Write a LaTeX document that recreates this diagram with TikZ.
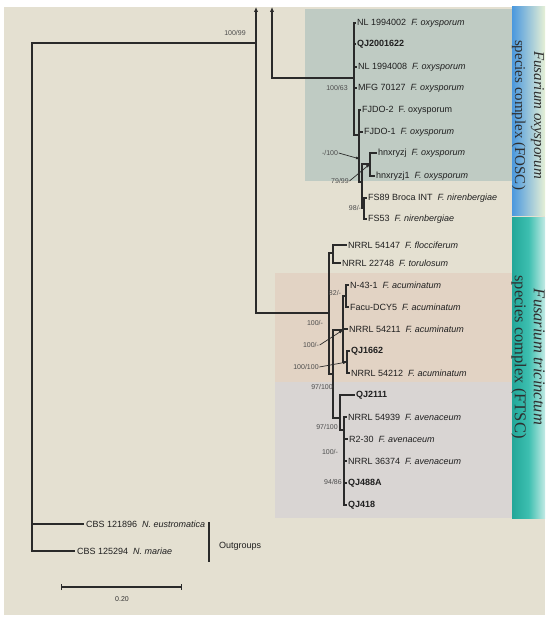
\documentclass[tikz,border=0pt]{standalone}
\usepackage{fontspec}
\setmainfont{Liberation Sans}
\newfontfamily\serifside{Liberation Serif}
\usetikzlibrary{arrows.meta}
\definecolor{bg}{HTML}{E4E0D1}
\definecolor{foscbox}{HTML}{BFCBC3}
\definecolor{acubox}{HTML}{E2D3C4}
\definecolor{avebox}{HTML}{D9D5D3}
\definecolor{blueL}{HTML}{4A98DE}
\definecolor{blueR}{HTML}{E6F0D6}
\definecolor{tealL}{HTML}{22A799}
\definecolor{tealM}{HTML}{3DBFB0}
\definecolor{tealR}{HTML}{C2EAE4}
\definecolor{ln}{HTML}{2A2A2A}
\begin{document}
\begin{tikzpicture}[x=1pt,y=-1pt,
  leaf/.style={anchor=west,inner sep=1pt,font=\fontsize{9}{10}\selectfont,text=black!88},
  br/.style={draw=ln,line width=1.1pt},
  thk/.style={draw=ln,line width=2.4pt},
  bs/.style={font=\fontsize{7}{8}\selectfont,text=black!70,inner sep=0.5pt},
  ann/.style={draw=ln,line width=0.7pt,-{Latex[length=4pt,width=3pt]}},
  side/.style={rotate=-90,align=center,text=black!82}]
\useasboundingbox (0,0) rectangle (550,623);
\fill[white] (0,0) rectangle (550,623);
\fill[bg] (4,7) rectangle (545,615);
% coloured boxes
\fill[foscbox] (305,9) rectangle (512,181);
\fill[acubox] (275,273) rectangle (512,382);
\fill[avebox] (275,382) rectangle (512,518);
\shade[left color=blueL,right color=blueR] (512,7) rectangle (545,215);
\shade[left color=tealL,right color=tealR,middle color=tealM] (512,217) rectangle (545,518);
\node[side,font=\serifside\fontsize{15}{19}\selectfont] (foscl) at (528,115) {\textit{Fusarium oxysporum}\\species complex (FOSC)};
\node[side,font=\serifside\fontsize{16.5}{19}\selectfont] (ftscl) at (528,357) {\textit{Fusarium tricinctum}\\species complex (FTSC)};

% root
\coordinate (root) at (32,300);
\coordinate (a1) at (256,43);
\draw[br] (root) |- (a1);
\node[bs] (bs1) at (235,33) {100/99};
\coordinate (top1) at (256,7);
\coordinate (top2) at (272,7);
\coordinate (t0) at (329,313);
\coordinate (f1) at (354,78);
\draw[br,{Latex[length=5pt,width=4.5pt]}-] (top1) |- (t0);
\draw[br,{Latex[length=5pt,width=4.5pt]}-] (top2) |- (f1);

% FOSC
\node[leaf] (l1) at (356,23) {NL 1994002\ \ \textit{F. oxysporum}};
\node[leaf] (l2) at (356,44) {\textbf{QJ2001622}};
\node[leaf] (l3) at (357,67) {NL 1994008\ \ \textit{F. oxysporum}};
\node[leaf] (l4) at (357,88) {MFG 70127\ \ \textit{F. oxysporum}};
\node[bs] (bs2) at (337,88) {100/63};
\coordinate (f2) at (359,135);
\foreach \l in {l1,l2,l3,l4} \draw[br] (f1) |- (\l.west);
\draw[br] (f1) |- (f2);
\node[leaf] (l5) at (361,110) {FJDO-2\ \ F. oxysporum};
\node[leaf] (l6) at (363,132) {FJDO-1\ \ \textit{F. oxysporum}};
\coordinate (f3) at (362,182);
\draw[br] (f2) |- (l5.west);
\draw[br] (f2) |- (l6.west);
\draw[br] (f2) |- (f3);
\coordinate (f4) at (370,164);
\coordinate (f5) at (364,208);
\draw[br] (f3) |- (f4);
\draw[br] (f3) |- (f5);
\node[leaf] (l7) at (377,153) {hnxryzj\ \ \textit{F. oxysporum}};
\node[leaf] (l8) at (375,176) {hnxryzj1\ \ \textit{F. oxysporum}};
\draw[br] (f4) |- (l7.west);
\draw[br] (f4) |- (l8.west);
\node[leaf] (l9) at (367,198) {FS89 Broca INT\ \ \textit{F. nirenbergiae}};
\node[leaf] (l10) at (367,219) {FS53\ \ \textit{F. nirenbergiae}};
\draw[br] (f5) |- (l9.west);
\draw[br] (f5) |- (l10.west);
\coordinate (f5a) at (364,200);
\coordinate (f5b) at (364,217);
\draw[thk] (f5a) -- (f5b);
\node[bs] (bs3) at (330,153) {-/100};
\coordinate (ar1) at (360,159);
\draw[ann] (bs3.east) -- (ar1);
\node[bs] (bs4) at (340,181) {79/99};
\draw[ann] (bs4.east) -- (f4);
\node[bs] (bs5) at (355,208) {98/-};

% FTSC
\coordinate (t1) at (333,253);
\coordinate (t2) at (333,374);
\draw[br] (t0) |- (t1);
\draw[br] (t0) |- (t2);
\node[leaf] (m1) at (347,245) {NRRL 54147\ \ \textit{F. flocciferum}};
\node[leaf] (m2) at (341,263) {NRRL 22748\ \ \textit{F. torulosum}};
\draw[br] (t1) |- (m1.west);
\draw[br] (t1) |- (m2.west);
\coordinate (t3) at (343,330);
\coordinate (t5) at (340,418);
\draw[br] (t2) |- (t3);
\draw[br] (t2) |- (t5);
\coordinate (t3a) at (346,296);
\coordinate (t3b) at (347,362);
\node[leaf] (m3) at (349,285) {N-43-1\ \ \textit{F. acuminatum}};
\node[leaf] (m4) at (349,307) {Facu-DCY5\ \ \textit{F. acuminatum}};
\node[leaf] (m5) at (348,329) {NRRL 54211\ \ \textit{F. acuminatum}};
\node[leaf] (m6) at (350,351) {\textbf{QJ1662}};
\node[leaf] (m7) at (350,373) {NRRL 54212\ \ \textit{F. acuminatum}};
\draw[br] (t3) |- (t3a);
\draw[br] (t3) |- (m5.west);
\draw[br] (t3) |- (t3b);
\draw[br] (t3a) |- (m3.west);
\draw[br] (t3a) |- (m4.west);
\coordinate (t3c) at (346,288);
\coordinate (t3d) at (346,304);
\draw[thk] (t3c) -- (t3d);
\draw[br] (t3b) |- (m6.west);
\draw[br] (t3b) |- (m7.west);
\coordinate (t6) at (344,430);
\node[leaf] (m8) at (355,395) {\textbf{QJ2111}};
\draw[br] (t5) |- (m8.west);
\draw[br] (t5) |- (t6);
\node[leaf] (m9) at (347,417) {NRRL 54939\ \ \textit{F. avenaceum}};
\node[leaf] (m10) at (348,439) {R2-30\ \ \textit{F. avenaceum}};
\node[leaf] (m11) at (347,461) {NRRL 36374\ \ \textit{F. avenaceum}};
\node[leaf] (m12) at (347,483) {\textbf{QJ488A}};
\node[leaf] (m13) at (347,505) {\textbf{QJ418}};
\foreach \l in {m9,m10,m11,m12,m13} \draw[br] (t6) |- (\l.west);
\coordinate (t6a) at (344,432);
\coordinate (t6b) at (344,500);
\draw[thk] (t6a) -- (t6b);
\node[bs] (bs6) at (335,293) {82/-};
\node[bs] (bs7) at (315,323) {100/-};
\node[bs] (bs8) at (311,345) {100/-};
\draw[ann] (bs8.east) -- (t3);
\node[bs] (bs9) at (306,367) {100/100};
\draw[ann] (bs9.east) -- (t3b);
\node[bs] (bs10) at (322,387) {97/100};
\node[bs] (bs11) at (327,427) {97/100};
\node[bs] (bs12) at (330,452) {100/-};
\node[bs] (bs13) at (333,482) {94/86};

% outgroups
\node[leaf,inner sep=2pt] (o1) at (84,524) {CBS 121896\ \ \textit{N. eustromatica}};
\node[leaf,inner sep=2pt] (o2) at (75,551) {CBS 125294\ \ \textit{N. mariae}};
\draw[br] (root) |- (o1.west);
\draw[br] (root) |- (o2.west);
\coordinate (ob1) at (209,522);
\coordinate (ob2) at (209,562);
\draw[br] (ob1) -- (ob2);
\node[leaf] (og) at (218,546) {Outgroups};

% scale bar
\coordinate (sb1) at (61,587);
\coordinate (sb2) at (182,587);
\draw[br,{Bar[width=6pt]}-{Bar[width=6pt]}] (sb1) -- (sb2);
\node[font=\fontsize{7}{8}\selectfont,text=black!80] (sbl) at (122,599) {0.20};
\end{tikzpicture}
\end{document}
